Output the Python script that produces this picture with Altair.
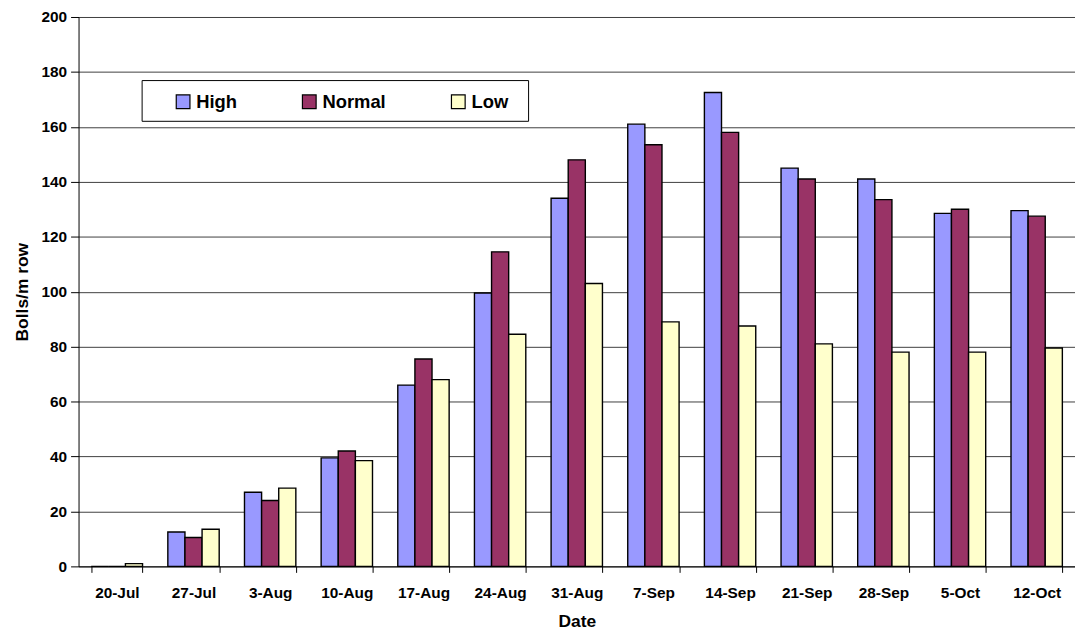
import altair as alt
import pandas as pd

dates = ["20-Jul", "27-Jul", "3-Aug", "10-Aug", "17-Aug", "24-Aug", "31-Aug",
         "7-Sep", "14-Sep", "21-Sep", "28-Sep", "5-Oct", "12-Oct"]
high = [0, 12.5, 27, 39.5, 66, 99.5, 134, 161, 172.5, 145, 141, 128.5, 129.5]
normal = [0, 10.5, 24, 42, 75.5, 114.5, 148, 153.5, 158, 141, 133.5, 130, 127.5]
low = [1, 13.5, 28.5, 38.5, 68, 84.5, 103, 89, 87.5, 81, 78, 78, 79.5]
series = ["High", "Normal", "Low"]
colors = ["#9999FF", "#993366", "#FFFFCC"]

rows = []
for i, d in enumerate(dates):
    for s, vals in zip(series, [high, normal, low]):
        rows.append({"date": d, "series": s, "value": vals[i]})
df = pd.DataFrame(rows)

FONT = "Liberation Sans"

box = alt.Chart(pd.DataFrame({"a": [0]})).mark_rect(
    fill="white", stroke="black", strokeWidth=1
).encode(x=alt.value(64), x2=alt.value(453), y=alt.value(64), y2=alt.value(105))

bars = alt.Chart(df).mark_bar(stroke="black", strokeWidth=1.4).encode(
    x=alt.X("date:N", sort=dates,
            scale=alt.Scale(paddingInner=0.33, paddingOuter=0.165),
            axis=alt.Axis(title="Date", labelAngle=0, tickBand="extent",
                          tickSize=6, labelPadding=13, titlePadding=12,
                          grid=False)),
    xOffset=alt.XOffset("series:N", sort=series,
                        scale=alt.Scale(paddingInner=0, paddingOuter=0)),
    y=alt.Y("value:Q", scale=alt.Scale(domain=[0, 200], nice=False),
            axis=alt.Axis(title="Bolls/m row", values=list(range(0, 201, 20)),
                          tickSize=8, labelPadding=4, titlePadding=10,
                          grid=True)),
    color=alt.Color("series:N", sort=series,
                    scale=alt.Scale(domain=series, range=colors),
                    legend=alt.Legend(title=None, orient="none", legendX=96,
                                      legendY=76, direction="horizontal",
                                      columns=3, columnPadding=62,
                                      symbolType="square", symbolSize=190,
                                      symbolStrokeColor="black",
                                      symbolStrokeWidth=1.2, symbolOpacity=1,
                                      labelFontSize=18.5, labelFont=FONT,
                                      labelFontWeight="bold", labelOffset=4,
                                      labelColor="black")),
)

chart = alt.layer(box, bars).properties(
    width=1003, height=553,
    autosize=alt.AutoSizeParams(type="none"),
    padding={"left": 71, "top": 7, "right": 0, "bottom": 66},
).configure_view(stroke=None).configure_axis(
    labelFont=FONT, labelFontSize=15.5, labelFontWeight="bold", labelColor="black",
    titleFont=FONT, titleFontSize=17.5, titleFontWeight="bold", titleColor="black",
    domainColor="black", tickColor="black", gridColor="#404040", gridWidth=1,
    domainWidth=1,
)

chart.save("out.html", embed_options={"renderer": "svg", "actions": False})
